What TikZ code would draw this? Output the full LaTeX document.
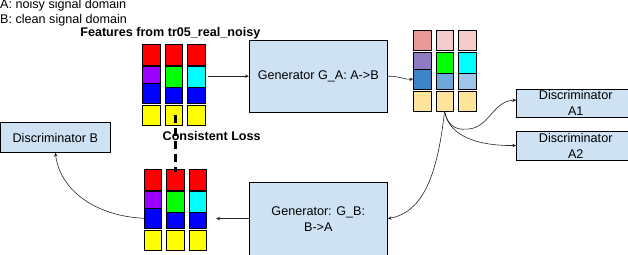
\documentclass[tikz,border=0pt]{standalone}
\usepackage{fontspec}
\setmainfont{Liberation Sans}
\usetikzlibrary{arrows.meta}

\definecolor{boxblue}{HTML}{CFE2F3}
\definecolor{sigred}{HTML}{FF0000}
\definecolor{sigpurple}{HTML}{9900FF}
\definecolor{siggreen}{HTML}{00FF00}
\definecolor{sigcyan}{HTML}{00FFFF}
\definecolor{sigblue}{HTML}{0000FF}
\definecolor{sigyellow}{HTML}{FFFF00}
\definecolor{outred}{HTML}{EA9999}
\definecolor{outpink}{HTML}{F4CCCC}
\definecolor{outpurple}{HTML}{8E7CC3}
\definecolor{outblue}{HTML}{3D85C6}
\definecolor{outsky}{HTML}{6FA8DC}
\definecolor{outpale}{HTML}{9FC5E8}
\definecolor{outyellow}{HTML}{FFE599}

\begin{document}
\begin{tikzpicture}[x=1pt,y=-1pt]
\tikzset{cell/.style={draw=black,line width=0.4pt,inner sep=0pt,outer sep=0pt,anchor=north west,
                      minimum width=17.5,minimum height=#1},
         txt/.style={font=\fontsize{12.6}{16}\selectfont},
         bold/.style={font=\fontsize{12.6}{16}\selectfont\bfseries},
         blk/.style={txt,draw=black,fill=boxblue,line width=0.8pt,inner sep=1pt,align=center},
         lab/.style={txt,inner sep=0pt,anchor=base west},
         conn/.style={line width=0.6pt,black!85,-{Stealth[length=4pt,width=3.4pt]}}}
\useasboundingbox (0,0) rectangle (628,254);

% legend and title
\node[lab] (legA) at (0,8.8) {A: noisy signal domain};
\node[lab] (legB) at (0,23.6) {B: clean signal domain};
\node[lab,bold,anchor=base] (title) at (170.3,36.5) {Features from tr05\_real\_noisy};

% features in (domain A)
\begin{scope}[shift={(142.5,44.3)}]
\foreach \k/\ct/\cm/\cl/\s in {1/sigred/sigpurple/sigblue/16.8, 2/sigred/siggreen/sigblue/20.8,
                               3/sigred/sigcyan/sigblue/20.8} {
  \node[cell=20.5,fill=\ct] (in-\k-top) at ({(\k-1)*22.5},0) {};
  \node[cell=\s,fill=\cm] (in-\k-hi) at ({(\k-1)*22.5},22.2) {};
  \node[cell={36.8-\s},fill=\cl] (in-\k-lo) at ({(\k-1)*22.5},22.2+\s) {};
  \node[cell=20.5,fill=sigyellow] (in-\k-bot) at ({(\k-1)*22.5},60.7) {};
}
\end{scope}

% generated features (domain B)
\begin{scope}[shift={(413.3,30)}]
\foreach \k/\ct/\cm/\cl/\s in {1/outred/outpurple/outblue/16.8, 2/outpink/siggreen/outsky/20.8,
                               3/outpink/sigcyan/outpale/20.8} {
  \node[cell=20.5,fill=\ct] (gen-\k-top) at ({(\k-1)*22.5},0) {};
  \node[cell=\s,fill=\cm] (gen-\k-hi) at ({(\k-1)*22.5},22.2) {};
  \node[cell={36.8-\s},fill=\cl] (gen-\k-lo) at ({(\k-1)*22.5},22.2+\s) {};
  \node[cell=20.5,fill=outyellow] (gen-\k-bot) at ({(\k-1)*22.5},60.7) {};
}
\end{scope}

% reconstructed features (domain A)
\begin{scope}[shift={(144,169.3)}]
\foreach \k/\ct/\cm/\cl/\s in {1/sigred/sigpurple/sigblue/16.8, 2/sigred/siggreen/sigblue/20.8,
                               3/sigred/sigcyan/sigblue/20.8} {
  \node[cell=20.5,fill=\ct] (rec-\k-top) at ({(\k-1)*22.5},0) {};
  \node[cell=\s,fill=\cm] (rec-\k-hi) at ({(\k-1)*22.5},22.2) {};
  \node[cell={36.8-\s},fill=\cl] (rec-\k-lo) at ({(\k-1)*22.5},22.2+\s) {};
  \node[cell=20.5,fill=sigyellow] (rec-\k-bot) at ({(\k-1)*22.5},60.7) {};
}
\end{scope}

% generators and discriminators
\node[blk,minimum width=138,minimum height=72.3] (gena) at (318.3,76.2) {Generator G\_A: A->B};
\node[blk,minimum width=138,minimum height=72.7] (genb) at (318.3,218.6) {Generator: G\_B:\\B->A};
\node[blk,minimum width=109.3,minimum height=29.6] (db) at (55.35,137.5) {Discriminator B};
\node[blk,minimum width=118,minimum height=28] (da1) at (575.7,103.3) {Discriminator\\A1};
\node[blk,minimum width=118,minimum height=29] (da2) at (575.7,145.5) {Discriminator\\A2};

% connectors
\coordinate (inout) at (208.3,76.2);
\coordinate (recin) at (216,218.6);
\draw[conn] (inout) -- (gena.west);
\draw[conn] (gena.east) .. controls (400,76) and (405,80) .. (gen-1-lo.west);
\draw[conn] (gen-2-bot.south) .. controls (448,128) and (458,131) .. (472,128.5)
            .. controls (490,124) and (495,100.2) .. ([yshift=3pt]da1.west);
\draw[conn] (gen-2-bot.south) .. controls (448,132) and (470,146) .. (da2.west);
\draw[conn] (gen-2-bot.south) .. controls (438,170) and (425,212) .. (genb.east);
\draw[conn] (genb.west) -- (recin);
\draw[conn] (rec-1-lo.west) .. controls (95,216) and (60,190) .. (db.south);

% cycle consistency
\node[lab,bold] (loss) at (162.5,140) {Consistent Loss};
\draw[line width=2.6pt,dash pattern=on 8pt off 5pt] ([xshift=1.75pt]in-2-bot.center)
      -- ([xshift=0.25pt,yshift=-3pt]rec-2-top.north);
\end{tikzpicture}
\end{document}
